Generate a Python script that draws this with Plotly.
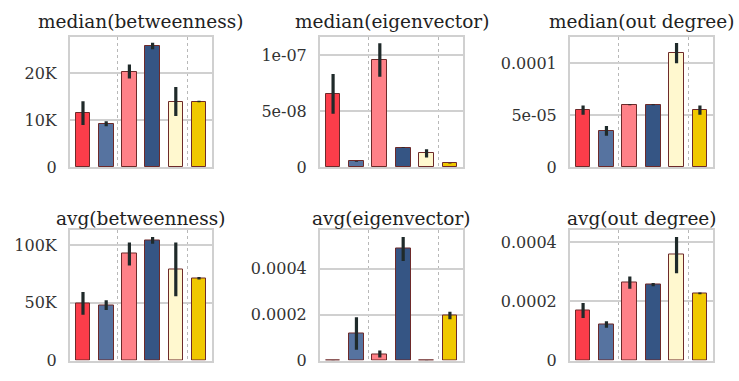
import plotly.graph_objects as go

colors = ["#fc3d4a", "#5673a0", "#ff8188", "#355584", "#fff8cf", "#f0c800"]
bar_x = [0, 1, 2, 3, 4, 5]

titles = ["median(betweenness)", "median(eigenvector)", "median(out degree)",
          "avg(betweenness)", "avg(eigenvector)", "avg(out degree)"]

med_betw = [11600, 9200, 20300, 25700, 13950, 13950]
med_betw_lo = [9000, 8700, 18800, 25000, 10900, 13800]
med_betw_hi = [14000, 9800, 21800, 26400, 17000, 14100]

med_eig = [6.6e-8, 0.55e-8, 9.63e-8, 1.77e-8, 1.28e-8, 0.37e-8]
med_eig_lo = [4.8e-8, 0.52e-8, 8.1e-8, 1.74e-8, 0.9e-8, 0.35e-8]
med_eig_hi = [8.35e-8, 0.58e-8, 11.1e-8, 1.8e-8, 1.63e-8, 0.39e-8]

med_out = [5.47e-5, 3.5e-5, 6.0e-5, 6.0e-5, 1.096e-4, 5.47e-5]
med_out_lo = [5.05e-5, 3.04e-5, 5.95e-5, 5.95e-5, 0.996e-4, 5.05e-5]
med_out_hi = [5.93e-5, 3.97e-5, 6.05e-5, 6.05e-5, 1.19e-4, 5.93e-5]

avg_betw = [49400, 48100, 92400, 104000, 79000, 71300]
avg_betw_lo = [39600, 43800, 82300, 101200, 55600, 70200]
avg_betw_hi = [59300, 52300, 102300, 107000, 102300, 72400]

avg_eig = [1e-6, 1.17e-4, 0.28e-4, 4.86e-4, 1e-6, 1.96e-4]
avg_eig_lo = [0.8e-6, 0.47e-4, 0.13e-4, 4.33e-4, 0.8e-6, 1.8e-4]
avg_eig_hi = [1.2e-6, 1.88e-4, 0.44e-4, 5.38e-4, 1.2e-6, 2.13e-4]

avg_out = [1.70e-4, 1.22e-4, 2.65e-4, 2.57e-4, 3.58e-4, 2.27e-4]
avg_out_lo = [1.44e-4, 1.11e-4, 2.43e-4, 2.51e-4, 2.95e-4, 2.24e-4]
avg_out_hi = [1.95e-4, 1.33e-4, 2.84e-4, 2.62e-4, 4.18e-4, 2.30e-4]

series = [
    (med_betw, med_betw_lo, med_betw_hi),
    (med_eig, med_eig_lo, med_eig_hi),
    (med_out, med_out_lo, med_out_hi),
    (avg_betw, avg_betw_lo, avg_betw_hi),
    (avg_eig, avg_eig_lo, avg_eig_hi),
    (avg_out, avg_out_lo, avg_out_hi),
]

y_ranges = [[0, 27600], [0, 1.165e-7], [0, 1.248e-4],
            [0, 112600], [0, 5.66e-4], [0, 4.4e-4]]
y_tickvals = [[0, 10000, 20000], [0, 5e-8, 1e-7], [0, 5e-5, 1e-4],
              [0, 50000, 100000], [0, 2e-4, 4e-4], [0, 2e-4, 4e-4]]
y_ticktext = [["0", "10K", "20K"], ["0", "5e-08", "1e-07"], ["0", "5e-05", "0.0001"],
              ["0", "50K", "100K"], ["0", "0.0002", "0.0004"], ["0", "0.0002", "0.0004"]]

W, H = 739, 381
x_dom_px = [(70, 212), (320, 463), (570, 713)]
y_dom_px = [(38, 172), (236.7, 370.3)]
title_shift = [3, -1]

FONT = "DejaVu Serif"
fig = go.Figure()
annotations = []
for i in range(6):
    r, c = divmod(i, 3)
    vals, lo, hi = series[i]
    n = "" if i == 0 else str(i + 1)
    xa, ya = "x" + n, "y" + n
    fig.add_trace(go.Bar(
        x=bar_x, y=vals, width=0.63,
        marker=dict(color=colors, line=dict(color="#6e2a2a", width=1)),
        error_y=dict(type="data", symmetric=False,
                     array=[h - v for h, v in zip(hi, vals)],
                     arrayminus=[v - l for v, l in zip(vals, lo)],
                     color="#1f2a2a", thickness=3.2, width=0),
        xaxis=xa, yaxis=ya, showlegend=False, hoverinfo="skip",
    ))
    x0, x1 = x_dom_px[c]
    yt, yb = y_dom_px[r]
    xd = [x0 / W, x1 / W]
    yd = [1 - yb / H, 1 - yt / H]
    xkey = "xaxis" + n
    ykey = "yaxis" + n
    fig.layout[xkey] = dict(
        domain=xd, anchor=ya, range=[-0.56, 5.56],
        tickvals=[1.5, 4.5], showticklabels=False, ticks="",
        showgrid=True, gridcolor="#b8b8b8", gridwidth=0.8, griddash="dot",
        showline=True, mirror=True, linecolor="#d0d0d0", linewidth=2,
        zeroline=False, fixedrange=True,
    )
    fig.layout[ykey] = dict(
        domain=yd, anchor=xa, range=y_ranges[i],
        tickvals=y_tickvals[i], ticktext=y_ticktext[i], ticks="",
        showgrid=True, gridcolor="#d0d0d0", gridwidth=2,
        showline=True, mirror=True, linecolor="#d0d0d0", linewidth=2,
        zeroline=False, ticklabelstandoff=8,
        tickfont=dict(family=FONT, size=16, color="#333333"),
        fixedrange=True,
    )
    annotations.append(dict(
        text=titles[i], x=(xd[0] + xd[1]) / 2, y=yd[1], xref="paper", yref="paper",
        xanchor="center", yanchor="bottom", yshift=title_shift[r], showarrow=False,
        font=dict(family=FONT, size=18.5, color="#222222"),
    ))

fig.update_layout(
    width=W, height=H, margin=dict(l=0, r=0, t=0, b=0),
    paper_bgcolor="white", plot_bgcolor="white",
    annotations=annotations, bargap=0,
)
fig.write_html("out.html")
